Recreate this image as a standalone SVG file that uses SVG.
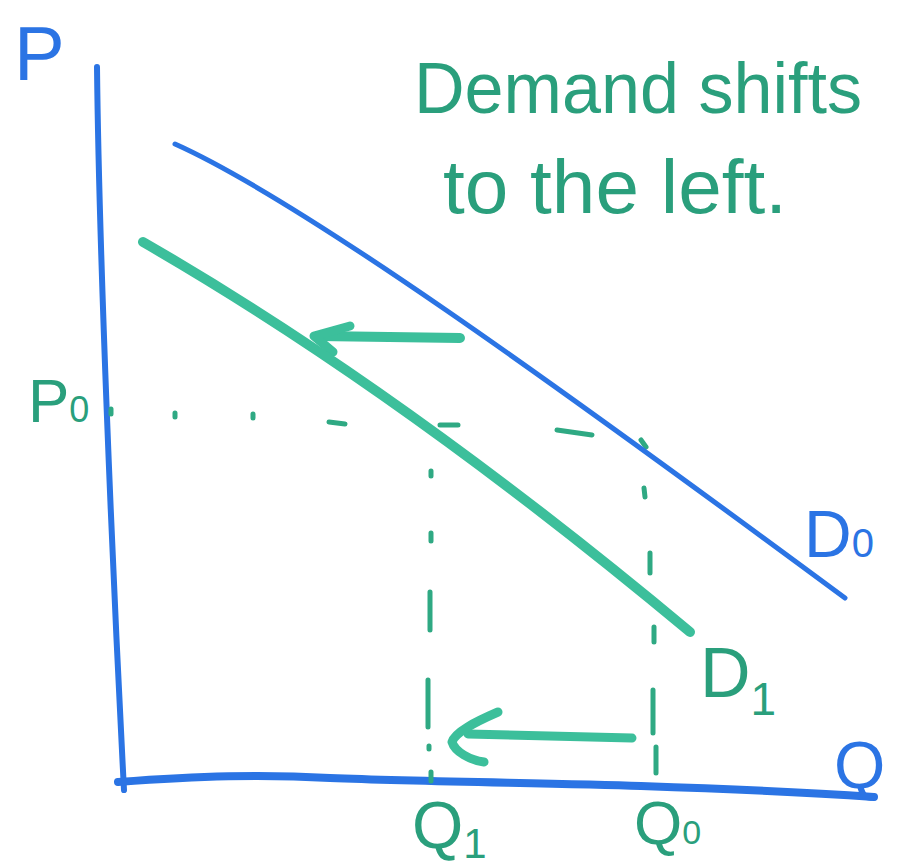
<svg xmlns="http://www.w3.org/2000/svg" width="909" height="866" viewBox="0 0 909 866">
<style>
.blue{fill:none;stroke:#2b74e4;stroke-linecap:round;stroke-linejoin:round}
.grn{fill:none;stroke:#3cbf9b;stroke-linecap:round;stroke-linejoin:round}
.dash{fill:none;stroke:#2fa983;stroke-width:5;stroke-linecap:round}
.tb{font-family:"Liberation Sans",Arial,sans-serif;fill:#2b74e4}
.tg{font-family:"Liberation Sans",Arial,sans-serif;fill:#2a9f7c}
</style>
<rect width="909" height="866" fill="#fff"/>
<g id="axes">
<path class="blue" stroke-width="6" d="M97,67 C99,250 112,560 124,790"/>
<path class="blue" stroke-width="8" d="M118,782 C200,776 260,774 330,778 C430,782 560,783 641,786 C730,789 800,792 874,797"/>
<text class="tb" x="14" y="80" font-size="76">P</text>
<text class="tb" x="834" y="788" font-size="66">Q</text>
</g>
<g id="connectors">
<g id="p0-guide">
<path class="dash" d="M111,409 L111,414 M175,413 L175,417 M253,414 L253,418 M329,422 L345,424 M440,425 L458,425 M557,430 L592,435 M641,440 L646,447"/>
</g>
<g id="q1-guide">
<path class="dash" d="M431,471 L431,476 M431,533 L431,541 M430,592 L430,630 M428,680 L428,727 M429,746 L429,749 M431,772 L431,781"/>
</g>
<g id="q0-guide">
<path class="dash" d="M644,488 L645,497 M650,553 L650,573 M654,627 L654,642 M653,690 L653,733 M656,747 L656,773"/>
</g>
<g id="shift-arrow-top">
<path class="grn" stroke="#30b08b" stroke-width="10" d="M460,338 L318,336"/>
<path class="grn" stroke="#30b08b" stroke-width="9" d="M350,326 L314,336 L333,352"/>
</g>
<g id="shift-arrow-bottom">
<path class="grn" stroke-width="9" d="M632,738 L468,734"/>
<path class="grn" stroke-width="9" d="M498,712 C475,722 455,732 452,742 C455,752 470,760 484,762"/>
</g>
</g>
<g id="D0">
<path class="blue" stroke-width="5" d="M175,144 C300,200 550,380 845,598"/>
<text class="tb" x="804" y="557" font-size="66">D<tspan font-size="40">0</tspan></text>
</g>
<g id="D1">
<path class="grn" stroke-width="10" d="M143,242 Q400,390 690,632"/>
<text class="tg" x="700" y="697" font-size="70">D<tspan font-size="46" dy="18">1</tspan></text>
</g>
<g id="labels">
<text class="tg" x="28" y="422" font-size="62">P<tspan font-size="36">0</tspan></text>
<text class="tg" x="412" y="848" font-size="66">Q<tspan font-size="42" dy="10">1</tspan></text>
<text class="tg" x="634" y="844" font-size="62">Q<tspan font-size="34">0</tspan></text>
<text class="tg" x="414" y="113" font-size="72" textLength="448" lengthAdjust="spacingAndGlyphs">Demand shifts</text>
<text class="tg" x="443" y="213" font-size="76" textLength="344" lengthAdjust="spacingAndGlyphs">to the left.</text>
</g>
</svg>
